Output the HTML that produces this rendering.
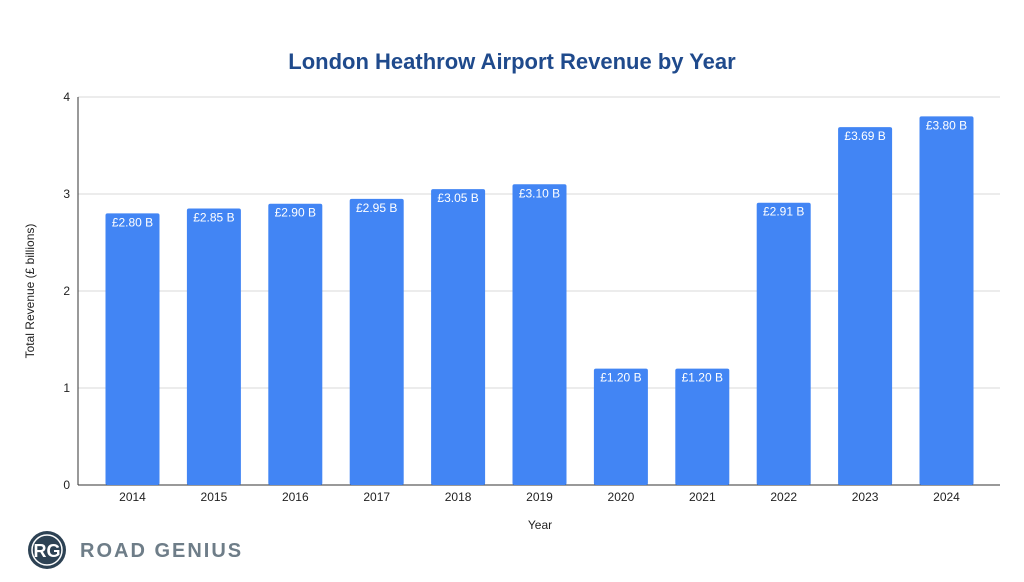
<!DOCTYPE html>
<html><head><meta charset="utf-8"><style>
body{margin:0;background:#fff;font-family:"Liberation Sans",Arial,sans-serif}
svg{display:block}
</style></head><body>
<svg id="chart" width="1024" height="582">
<text x="512" y="69" text-anchor="middle" font-size="22" font-weight="bold" fill="#1f4a8c">London Heathrow Airport Revenue by Year</text>
<g id="grid"></g><g id="bars"></g>
<text x="540" y="529" text-anchor="middle" font-size="12" fill="#222">Year</text>
<text transform="translate(34,291) rotate(-90)" text-anchor="middle" font-size="12" fill="#222">Total Revenue (£ billions)</text>
<g>
<circle cx="47" cy="550" r="19" fill="#2d4254"/>
<circle cx="47" cy="550" r="15" fill="none" stroke="#fff" stroke-width="1.5"/>
<text x="47" y="557" text-anchor="middle" font-size="18" font-weight="bold" fill="#fff">RG</text>
<text x="80" y="557" font-size="20" font-weight="bold" fill="#6e7d88" letter-spacing="2">ROAD GENIUS</text>
</g>
</svg>
<script>
const categories=["2014","2015","2016","2017","2018","2019","2020","2021","2022","2023","2024"];
const values=[2.80,2.85,2.90,2.95,3.05,3.10,1.20,1.20,2.91,3.69,3.80];
const labels=["£2.80 B","£2.85 B","£2.90 B","£2.95 B","£3.05 B","£3.10 B","£1.20 B","£1.20 B","£2.91 B","£3.69 B","£3.80 B"];
const yTicks=[0,1,2,3,4];
const NS="http://www.w3.org/2000/svg";
const x0=91.8,band=81.4,bw=54,yBase=485,yTop=97,yMax=4;
const y=v=>yBase-(v/yMax)*(yBase-yTop);
const xc=i=>x0+band*(i+0.5);
function mk(t,a,p){const e=document.createElementNS(NS,t);for(const k in a)e.setAttribute(k,a[k]);p.appendChild(e);return e;}
const g=document.getElementById('grid'),b=document.getElementById('bars');
yTicks.forEach(t=>{
 const l=mk('line',{x1:78,x2:1000,y1:y(t),y2:y(t),stroke:t===0?'#333':'#d9d9d9','stroke-width':1},g);
 
 
 const tx=mk('text',{x:70,y:y(t)+4,'text-anchor':'end','font-size':12,fill:'#222'},g);tx.textContent=t;
 
 
});
const ax=mk('line',{x1:78,x2:78,y1:yTop,y2:yBase,stroke:'#333'},g);


categories.forEach((c,i)=>{
 const r=mk('rect',{x:xc(i)-bw/2,y:y(values[i]),width:bw,height:yBase-y(values[i]),fill:'#4285f4',rx:2},b);
 
 
 const t=mk('text',{x:xc(i),y:y(values[i])+13,'text-anchor':'middle','font-size':12,fill:'#fff'},b);t.textContent=labels[i];
 
 
 const xl=mk('text',{x:xc(i),y:501,'text-anchor':'middle','font-size':12,fill:'#222'},b);xl.textContent=c;
 
 
});
</script>
</body></html>
